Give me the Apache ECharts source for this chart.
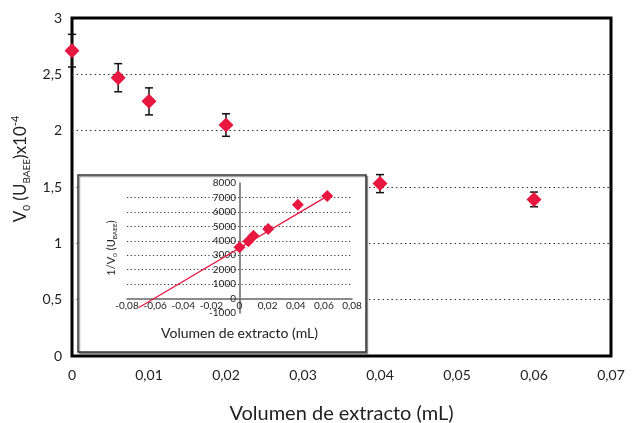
<!DOCTYPE html>
<html>
<head>
<meta charset="utf-8">
<script src="https://cdn.jsdelivr.net/npm/echarts@6/dist/echarts.min.js"></script>
<style>
  html, body { margin: 0; padding: 0; background: #fff; }
  #chart { width: 637px; height: 423px; }
</style>
</head>
<body>
<div id="chart"></div>
<script>
// Main data: V0 vs extract volume
const xVals = [0, 0.006, 0.01, 0.02, 0.04, 0.06];
const vVals = [2.71, 2.47, 2.26, 2.05, 1.53, 1.39];
const vErr = [0.145, 0.125, 0.12, 0.1, 0.08, 0.065];

// Inset data: 1/V0 vs extract volume + fitted line ends
const insetX = [0, 0.0063, 0.0099, 0.0204, 0.0415, 0.0624];
const insetY = [3560, 3960, 4350, 4810, 6500, 7100];
const fitX = [-0.0715, 0.063];
const fitY = [-620, 7130];

const RED = '#E8173F';
const FONT = 'Lato';

function comma(v, digits) {
    if (v === 0) return '0';
    return (digits != null ? v.toFixed(digits) : String(v)).replace('.', ',');
}

const chart = echarts.init(document.getElementById('chart'));

const option = {
    animation: false,
    textStyle: { fontFamily: FONT, color: '#222' },
    grid: [
        { left: 72, top: 18, right: 26, bottom: 67, outerBoundsMode: 'none', show: true, borderColor: '#000', borderWidth: 3, backgroundColor: '#fff' },
        { left: 127, top: 183, right: 285, bottom: 110, outerBoundsMode: 'none' }
    ],
    graphic: [{
        type: 'rect',
        z: 10,
        shape: { x: 78, y: 175, width: 288, height: 177 },
        style: { fill: '#fff', stroke: '#333', lineWidth: 1.5, shadowColor: 'rgba(0,0,0,0.35)', shadowOffsetX: 1.5, shadowOffsetY: 1.5, shadowBlur: 0 }
    }],
    xAxis: [{
        gridIndex: 0,
        type: 'value',
        min: 0, max: 0.07, interval: 0.01,
        axisLine: { show: false },
        axisTick: { show: false },
        splitLine: { show: false },
        axisLabel: { fontSize: 14, margin: 12, color: '#222', formatter: v => comma(v, 2) },
        name: 'Volumen de extracto (mL)',
        nameLocation: 'middle',
        nameGap: 48,
        nameTextStyle: { fontSize: 20, color: '#222' }
    }, {
        gridIndex: 1,
        type: 'value',
        min: -0.08, max: 0.08, interval: 0.02,
        z: 20,
        axisLine: { onZero: true, lineStyle: { color: '#666', width: 1.5 } },
        axisTick: { show: false },
        splitLine: { show: false },
        axisLabel: { fontSize: 10, margin: -12, color: '#222', formatter: v => comma(Math.round(v * 100) / 100, 2) },
        name: 'Volumen de extracto (mL)',
        nameLocation: 'middle',
        nameGap: 13,
        nameMoveOverlap: false,
        nameTextStyle: { fontSize: 14, color: '#222' }
    }],
    yAxis: [{
        gridIndex: 0,
        type: 'value',
        min: 0, max: 3, interval: 0.5,
        axisLine: { show: false },
        axisTick: { show: false },
        splitLine: {
            show: true,
            lineStyle: { color: ['transparent', '#333', '#333', '#333', '#333', '#333', 'transparent'], type: [1.5, 3], width: 1.2 }
        },
        axisLabel: { fontSize: 14, margin: 10, color: '#222', formatter: v => comma(v) },
        name: '{b|V}{s|0}{b| (U}{s|BAEE}{b|)x10}{p|-4}',
        nameLocation: 'middle',
        nameGap: 38,
        nameTextStyle: {
            padding: [0, 0, 0, 36],
            rich: {
                b: { fontSize: 17, fontFamily: FONT, color: '#222', lineHeight: 22 },
                s: { fontSize: 10, fontFamily: FONT, color: '#222', lineHeight: 12, verticalAlign: 'bottom' },
                p: { fontSize: 11, fontFamily: FONT, color: '#222', lineHeight: 14, verticalAlign: 'top' }
            }
        }
    }, {
        gridIndex: 1,
        type: 'value',
        min: -1000, max: 8000, interval: 1000,
        z: 20,
        axisLine: { onZero: true, lineStyle: { color: '#666', width: 1.5 } },
        axisTick: { show: false },
        splitLine: {
            show: true,
            lineStyle: { color: ['transparent', 'transparent', '#333', '#333', '#333', '#333', '#333', '#333', '#333', 'transparent'], type: [1.2, 2.5], width: 1 }
        },
        axisLabel: { fontSize: 10, margin: -109, color: '#222', formatter: v => String(v) },
        name: '{b|1/V}{s|0}{b| (U}{s|BAEE}{b|)}',
        nameLocation: 'middle',
        nameGap: 9,
        nameMoveOverlap: false,
        nameTextStyle: {
            rich: {
                b: { fontSize: 11, fontFamily: FONT, color: '#222', lineHeight: 14 },
                s: { fontSize: 6.5, fontFamily: FONT, color: '#222', lineHeight: 8, verticalAlign: 'bottom' }
            }
        }
    }],
    series: [{
        type: 'custom',
        xAxisIndex: 0, yAxisIndex: 0,
        z: 3,
        data: xVals.map((x, i) => [x, vVals[i] - vErr[i], vVals[i] + vErr[i]]),
        renderItem: function (params, api) {
            const lo = api.coord([api.value(0), api.value(1)]);
            const hi = api.coord([api.value(0), api.value(2)]);
            const cap = 4;
            const style = { stroke: '#111', lineWidth: 1.5 };
            return {
                type: 'group',
                children: [
                    { type: 'line', shape: { x1: lo[0], y1: lo[1], x2: hi[0], y2: hi[1] }, style: style },
                    { type: 'line', shape: { x1: lo[0] - cap, y1: lo[1], x2: lo[0] + cap, y2: lo[1] }, style: style },
                    { type: 'line', shape: { x1: hi[0] - cap, y1: hi[1], x2: hi[0] + cap, y2: hi[1] }, style: style }
                ]
            };
        }
    }, {
        type: 'scatter',
        xAxisIndex: 0, yAxisIndex: 0,
        z: 4,
        symbol: 'diamond',
        symbolSize: [15, 15],
        itemStyle: { color: RED, opacity: 1 },
        data: xVals.map((x, i) => [x, vVals[i]])
    }, {
        type: 'line',
        xAxisIndex: 1, yAxisIndex: 1,
        z: 21,
        symbol: 'none',
        lineStyle: { color: RED, width: 1.3 },
        data: fitX.map((x, i) => [x, fitY[i]])
    }, {
        type: 'scatter',
        xAxisIndex: 1, yAxisIndex: 1,
        z: 22,
        symbol: 'diamond',
        symbolSize: [12, 12],
        itemStyle: { color: RED, opacity: 1 },
        data: insetX.map((x, i) => [x, insetY[i]])
    }]
};

chart.setOption(option);
</script>
</body>
</html>
